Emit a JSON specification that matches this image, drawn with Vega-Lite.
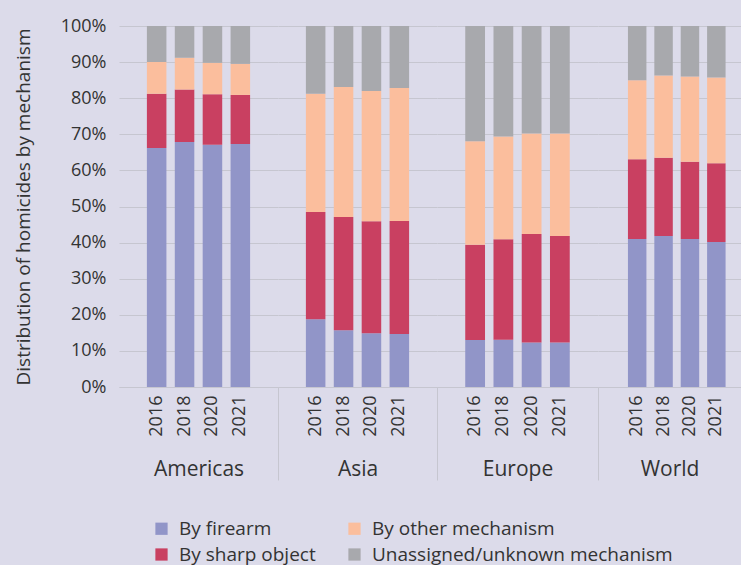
{
  "$schema": "https://vega.github.io/schema/vega-lite/v6.json",
  "background": "#dcdbea",
  "padding": {"top": 17, "left": 14, "right": 0, "bottom": 0},
  "data": {"values": [
    {"region": "Americas", "year": 2016, "mechanism": "By firearm", "share": 66.2},
    {"region": "Americas", "year": 2016, "mechanism": "By sharp object", "share": 15.0},
    {"region": "Americas", "year": 2016, "mechanism": "By other mechanism", "share": 8.8},
    {"region": "Americas", "year": 2016, "mechanism": "Unassigned/unknown mechanism", "share": 10.0},
    {"region": "Americas", "year": 2018, "mechanism": "By firearm", "share": 67.9},
    {"region": "Americas", "year": 2018, "mechanism": "By sharp object", "share": 14.5},
    {"region": "Americas", "year": 2018, "mechanism": "By other mechanism", "share": 8.8},
    {"region": "Americas", "year": 2018, "mechanism": "Unassigned/unknown mechanism", "share": 8.8},
    {"region": "Americas", "year": 2020, "mechanism": "By firearm", "share": 67.1},
    {"region": "Americas", "year": 2020, "mechanism": "By sharp object", "share": 14.0},
    {"region": "Americas", "year": 2020, "mechanism": "By other mechanism", "share": 8.7},
    {"region": "Americas", "year": 2020, "mechanism": "Unassigned/unknown mechanism", "share": 10.2},
    {"region": "Americas", "year": 2021, "mechanism": "By firearm", "share": 67.3},
    {"region": "Americas", "year": 2021, "mechanism": "By sharp object", "share": 13.6},
    {"region": "Americas", "year": 2021, "mechanism": "By other mechanism", "share": 8.6},
    {"region": "Americas", "year": 2021, "mechanism": "Unassigned/unknown mechanism", "share": 10.5},
    {"region": "Asia", "year": 2016, "mechanism": "By firearm", "share": 18.8},
    {"region": "Asia", "year": 2016, "mechanism": "By sharp object", "share": 29.7},
    {"region": "Asia", "year": 2016, "mechanism": "By other mechanism", "share": 32.7},
    {"region": "Asia", "year": 2016, "mechanism": "Unassigned/unknown mechanism", "share": 18.8},
    {"region": "Asia", "year": 2018, "mechanism": "By firearm", "share": 15.7},
    {"region": "Asia", "year": 2018, "mechanism": "By sharp object", "share": 31.4},
    {"region": "Asia", "year": 2018, "mechanism": "By other mechanism", "share": 36.0},
    {"region": "Asia", "year": 2018, "mechanism": "Unassigned/unknown mechanism", "share": 16.9},
    {"region": "Asia", "year": 2020, "mechanism": "By firearm", "share": 14.9},
    {"region": "Asia", "year": 2020, "mechanism": "By sharp object", "share": 31.0},
    {"region": "Asia", "year": 2020, "mechanism": "By other mechanism", "share": 36.1},
    {"region": "Asia", "year": 2020, "mechanism": "Unassigned/unknown mechanism", "share": 18.0},
    {"region": "Asia", "year": 2021, "mechanism": "By firearm", "share": 14.7},
    {"region": "Asia", "year": 2021, "mechanism": "By sharp object", "share": 31.3},
    {"region": "Asia", "year": 2021, "mechanism": "By other mechanism", "share": 36.8},
    {"region": "Asia", "year": 2021, "mechanism": "Unassigned/unknown mechanism", "share": 17.2},
    {"region": "Europe", "year": 2016, "mechanism": "By firearm", "share": 13.0},
    {"region": "Europe", "year": 2016, "mechanism": "By sharp object", "share": 26.4},
    {"region": "Europe", "year": 2016, "mechanism": "By other mechanism", "share": 28.7},
    {"region": "Europe", "year": 2016, "mechanism": "Unassigned/unknown mechanism", "share": 31.9},
    {"region": "Europe", "year": 2018, "mechanism": "By firearm", "share": 13.1},
    {"region": "Europe", "year": 2018, "mechanism": "By sharp object", "share": 27.8},
    {"region": "Europe", "year": 2018, "mechanism": "By other mechanism", "share": 28.5},
    {"region": "Europe", "year": 2018, "mechanism": "Unassigned/unknown mechanism", "share": 30.6},
    {"region": "Europe", "year": 2020, "mechanism": "By firearm", "share": 12.3},
    {"region": "Europe", "year": 2020, "mechanism": "By sharp object", "share": 30.1},
    {"region": "Europe", "year": 2020, "mechanism": "By other mechanism", "share": 27.8},
    {"region": "Europe", "year": 2020, "mechanism": "Unassigned/unknown mechanism", "share": 29.8},
    {"region": "Europe", "year": 2021, "mechanism": "By firearm", "share": 12.3},
    {"region": "Europe", "year": 2021, "mechanism": "By sharp object", "share": 29.5},
    {"region": "Europe", "year": 2021, "mechanism": "By other mechanism", "share": 28.4},
    {"region": "Europe", "year": 2021, "mechanism": "Unassigned/unknown mechanism", "share": 29.8},
    {"region": "World", "year": 2016, "mechanism": "By firearm", "share": 41.0},
    {"region": "World", "year": 2016, "mechanism": "By sharp object", "share": 22.1},
    {"region": "World", "year": 2016, "mechanism": "By other mechanism", "share": 21.9},
    {"region": "World", "year": 2016, "mechanism": "Unassigned/unknown mechanism", "share": 15.0},
    {"region": "World", "year": 2018, "mechanism": "By firearm", "share": 41.8},
    {"region": "World", "year": 2018, "mechanism": "By sharp object", "share": 21.7},
    {"region": "World", "year": 2018, "mechanism": "By other mechanism", "share": 22.8},
    {"region": "World", "year": 2018, "mechanism": "Unassigned/unknown mechanism", "share": 13.7},
    {"region": "World", "year": 2020, "mechanism": "By firearm", "share": 41.0},
    {"region": "World", "year": 2020, "mechanism": "By sharp object", "share": 21.4},
    {"region": "World", "year": 2020, "mechanism": "By other mechanism", "share": 23.6},
    {"region": "World", "year": 2020, "mechanism": "Unassigned/unknown mechanism", "share": 14.0},
    {"region": "World", "year": 2021, "mechanism": "By firearm", "share": 40.2},
    {"region": "World", "year": 2021, "mechanism": "By sharp object", "share": 21.8},
    {"region": "World", "year": 2021, "mechanism": "By other mechanism", "share": 23.7},
    {"region": "World", "year": 2021, "mechanism": "Unassigned/unknown mechanism", "share": 14.3}
  ]},
  "transform": [
    {"calculate": "indexof(['By firearm', 'By sharp object', 'By other mechanism', 'Unassigned/unknown mechanism'], datum.mechanism)", "as": "stack_order"}
  ],
  "spacing": 0,
  "bounds": "flush",
  "hconcat": [
    {
      "width": 159, "height": 361,
      "transform": [{"filter": "datum.region === 'Americas'"}],
      "layer": [
        {
          "mark": "bar",
          "encoding": {
            "x": {"field": "year", "type": "ordinal", "scale": {"paddingInner": 0.3, "paddingOuter": 1.16},
                  "axis": {"orient": "bottom", "title": "Americas", "labelAngle": -90, "labelFontSize": 18, "labelPadding": 8, "ticks": false, "titleFontSize": 21, "titlePadding": 22}},
            "y": {"field": "share", "type": "quantitative", "stack": "normalize", "scale": {"domain": [0, 1]},
                  "axis": {"values": [0, 0.1, 0.2, 0.3, 0.4, 0.5, 0.6, 0.7, 0.8, 0.9, 1], "format": ".0%", "labelFontSize": 18, "labelPadding": 13, "ticks": false, "domain": false, "title": "Distribution of homicides by mechanism", "titleFontSize": 19, "titlePadding": 27}},
            "color": {"field": "mechanism", "type": "nominal",
                      "scale": {"domain": ["By firearm", "By sharp object", "By other mechanism", "Unassigned/unknown mechanism"], "range": ["#9195c8", "#c94061", "#fbbe9d", "#a8a9ad"]}},
            "order": {"field": "stack_order", "type": "quantitative", "sort": "ascending"}
          }
        },
        {
          "mark": {"type": "bar", "opacity": 0},
          "encoding": {
            "x": {"field": "year", "type": "ordinal", "scale": {"type": "band", "paddingInner": 0, "paddingOuter": 0},
                  "axis": {"orient": "bottom", "values": [2021], "bandPosition": 1, "ticks": true, "tickSize": 93, "labels": false, "domain": false, "grid": false, "title": null}}
          }
        }
      ],
      "resolve": {"scale": {"x": "independent"}, "axis": {"x": "independent"}}
    },
    {
      "width": 159, "height": 361,
      "transform": [{"filter": "datum.region === 'Asia'"}],
      "layer": [
        {
          "mark": "bar",
          "encoding": {
            "x": {"field": "year", "type": "ordinal", "scale": {"paddingInner": 0.3, "paddingOuter": 1.16},
                  "axis": {"orient": "bottom", "title": "Asia", "labelAngle": -90, "labelFontSize": 18, "labelPadding": 8, "ticks": false, "titleFontSize": 21, "titlePadding": 22}},
            "y": {"field": "share", "type": "quantitative", "stack": "normalize", "scale": {"domain": [0, 1]},
                  "axis": {"values": [0, 0.1, 0.2, 0.3, 0.4, 0.5, 0.6, 0.7, 0.8, 0.9, 1], "labels": false, "ticks": false, "domain": false, "title": null}},
            "color": {"field": "mechanism", "type": "nominal",
                      "scale": {"domain": ["By firearm", "By sharp object", "By other mechanism", "Unassigned/unknown mechanism"], "range": ["#9195c8", "#c94061", "#fbbe9d", "#a8a9ad"]}},
            "order": {"field": "stack_order", "type": "quantitative", "sort": "ascending"}
          }
        },
        {
          "mark": {"type": "bar", "opacity": 0},
          "encoding": {
            "x": {"field": "year", "type": "ordinal", "scale": {"type": "band", "paddingInner": 0, "paddingOuter": 0},
                  "axis": {"orient": "bottom", "values": [2021], "bandPosition": 1, "ticks": true, "tickSize": 93, "labels": false, "domain": false, "grid": false, "title": null}}
          }
        }
      ],
      "resolve": {"scale": {"x": "independent"}, "axis": {"x": "independent"}}
    },
    {
      "width": 161, "height": 361,
      "transform": [{"filter": "datum.region === 'Europe'"}],
      "layer": [
        {
          "mark": "bar",
          "encoding": {
            "x": {"field": "year", "type": "ordinal", "scale": {"paddingInner": 0.3, "paddingOuter": 1.2},
                  "axis": {"orient": "bottom", "title": "Europe", "labelAngle": -90, "labelFontSize": 18, "labelPadding": 8, "ticks": false, "titleFontSize": 21, "titlePadding": 22}},
            "y": {"field": "share", "type": "quantitative", "stack": "normalize", "scale": {"domain": [0, 1]},
                  "axis": {"values": [0, 0.1, 0.2, 0.3, 0.4, 0.5, 0.6, 0.7, 0.8, 0.9, 1], "labels": false, "ticks": false, "domain": false, "title": null}},
            "color": {"field": "mechanism", "type": "nominal",
                      "scale": {"domain": ["By firearm", "By sharp object", "By other mechanism", "Unassigned/unknown mechanism"], "range": ["#9195c8", "#c94061", "#fbbe9d", "#a8a9ad"]}},
            "order": {"field": "stack_order", "type": "quantitative", "sort": "ascending"}
          }
        },
        {
          "mark": {"type": "bar", "opacity": 0},
          "encoding": {
            "x": {"field": "year", "type": "ordinal", "scale": {"type": "band", "paddingInner": 0, "paddingOuter": 0},
                  "axis": {"orient": "bottom", "values": [2021], "bandPosition": 1, "ticks": true, "tickSize": 93, "labels": false, "domain": false, "grid": false, "title": null}}
          }
        }
      ],
      "resolve": {"scale": {"x": "independent"}, "axis": {"x": "independent"}}
    },
    {
      "width": 143, "height": 361,
      "transform": [{"filter": "datum.region === 'World'"}],
      "mark": "bar",
      "encoding": {
        "x": {"field": "year", "type": "ordinal", "scale": {"paddingInner": 0.3, "paddingOuter": 0.86, "align": 0.66},
              "axis": {"orient": "bottom", "title": "World", "labelAngle": -90, "labelFontSize": 18, "labelPadding": 8, "ticks": false, "titleFontSize": 21, "titlePadding": 22}},
        "y": {"field": "share", "type": "quantitative", "stack": "normalize", "scale": {"domain": [0, 1]},
              "axis": {"values": [0, 0.1, 0.2, 0.3, 0.4, 0.5, 0.6, 0.7, 0.8, 0.9, 1], "labels": false, "ticks": false, "domain": false, "title": null}},
        "color": {"field": "mechanism", "type": "nominal",
                  "scale": {"domain": ["By firearm", "By sharp object", "By other mechanism", "Unassigned/unknown mechanism"], "range": ["#9195c8", "#c94061", "#fbbe9d", "#a8a9ad"]}},
        "order": {"field": "stack_order", "type": "quantitative", "sort": "ascending"}
      }
    }
  ],
  "config": {
    "font": "Open Sans",
    "view": {"stroke": null},
    "axis": {"labelColor": "#333333", "titleColor": "#333333", "gridColor": "#c6c6d0", "domainColor": "#c6c6d0", "tickColor": "#c6c6d0", "titleFontWeight": "normal", "labelFont": "Open Sans", "titleFont": "Open Sans"},
    "legend": {"orient": "none", "legendX": 33, "legendY": 493, "columns": 2, "title": null, "symbolType": "square", "symbolSize": 150, "symbolStrokeWidth": 0, "labelFontSize": 19, "labelColor": "#333333", "labelFont": "Open Sans", "labelOffset": 8, "columnPadding": 29, "rowPadding": 6, "padding": 0, "labelLimit": 400}
  }
}
